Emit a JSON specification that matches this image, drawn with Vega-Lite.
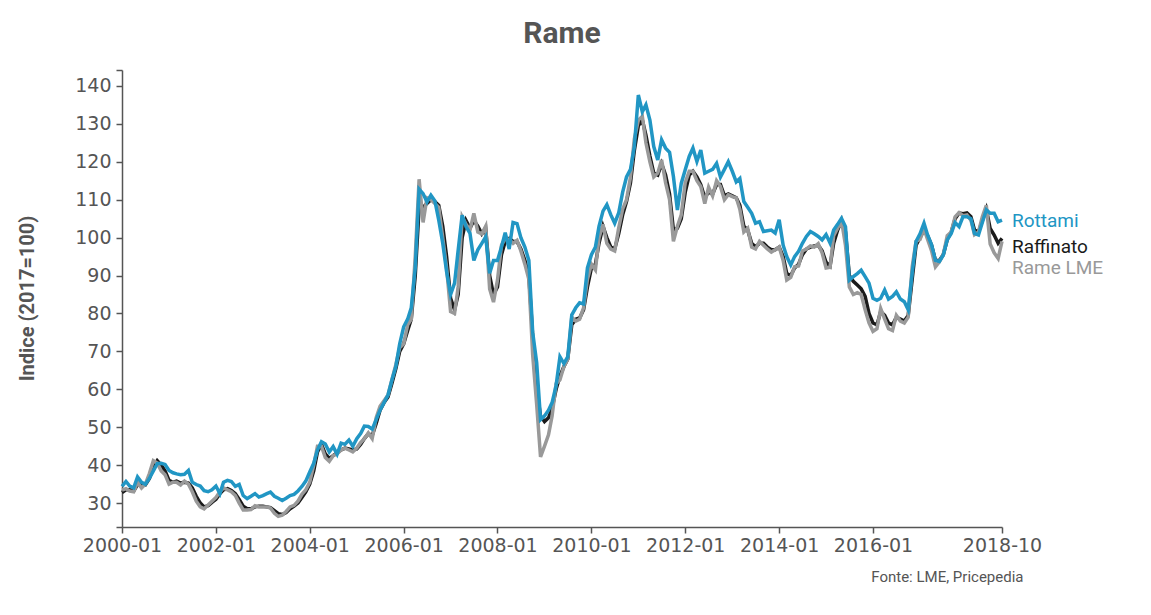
{
"$schema": "https://vega.github.io/schema/vega-lite/v6.json",
"width": 880,
"height": 457,
"autosize": {"type": "none"},
"padding": {"left": 122, "top": 70, "right": 149, "bottom": 88},
"background": "white",
"config": {"view": {"stroke": null}, "font": "Roboto", "axisY": {"labelOverlap": false}},
"title": {"text": "Rame", "font": "Roboto", "fontSize": 30, "fontWeight": "bold", "color": "#555555", "anchor": "middle", "offset": 12},
"encoding": {
"x": {"field": "d", "type": "temporal",
"scale": {"domain": [{"year": 2000, "month": 1, "date": 1}, {"year": 2018, "month": 10, "date": 1}]},
"axis": {"values": [{"year": 2000, "month": 1, "date": 1}, {"year": 2002, "month": 1, "date": 1}, {"year": 2004, "month": 1, "date": 1}, {"year": 2006, "month": 1, "date": 1}, {"year": 2008, "month": 1, "date": 1}, {"year": 2010, "month": 1, "date": 1}, {"year": 2012, "month": 1, "date": 1}, {"year": 2014, "month": 1, "date": 1}, {"year": 2016, "month": 1, "date": 1}, {"year": 2018, "month": 10, "date": 1}],
"format": "%Y-%m", "labelFont": "DejaVu Sans", "labelFontSize": 19, "labelColor": "#555555", "labelPadding": 3, "labelOverlap": false, "labelFlush": false,
"tickSize": 6, "tickColor": "#555555", "domainColor": "#555555", "domainWidth": 1.5, "tickWidth": 1.5, "grid": false,
"title": "Fonte: LME, Pricepedia", "titleFont": "Roboto", "titleFontSize": 15, "titleFontWeight": "normal", "titleColor": "#555555",
"titleAnchor": "end", "titleAlign": "right", "titleBaseline": "middle", "titleX": 901, "titleY": 49}},
"y": {"field": "valore", "type": "quantitative",
"scale": {"domain": [23.7, 144.2], "nice": false, "zero": false},
"axis": {"values": [23.7, 30, 40, 50, 60, 70, 80, 90, 100, 110, 120, 130, 140, 144.2],
"labelExpr": "datum.value % 10 == 0 ? datum.label : ''", "labelOverlap": false,
"labelFont": "DejaVu Sans", "labelFontSize": 19, "labelColor": "#555555", "labelPadding": 5,
"tickSize": 6, "tickColor": "#555555", "domainColor": "#555555", "domainWidth": 1.5, "tickWidth": 1.5, "grid": false,
"title": "Indice (2017=100)", "titleFont": "Roboto", "titleFontSize": 20, "titleFontWeight": "bold", "titleColor": "#555555",
"titleAngle": -90, "titleAlign": "center", "titleBaseline": "middle", "titleX": -95, "titleY": 228}},
"color": {"field": "serie", "type": "nominal",
"scale": {"domain": ["Rottami", "Raffinato", "Rame LME"], "range": ["#2196c4", "#1a1a1a", "#999999"]},
"legend": null}
},
"layer": [
{
"data": {"format": {"parse": {"d": "date:'%Y-%m'"}}, "values": [
{"d":"2000-01","Rottami":34.4,"Raffinato":32.8,"Rame LME":33.4},
{"d":"2000-02","Rottami":35.7,"Raffinato":33.5,"Rame LME":33.8},
{"d":"2000-03","Rottami":34.5,"Raffinato":33.5,"Rame LME":33.2},
{"d":"2000-04","Rottami":34,"Raffinato":33.2,"Rame LME":33},
{"d":"2000-05","Rottami":36.9,"Raffinato":34.8,"Rame LME":35.5},
{"d":"2000-06","Rottami":35.5,"Raffinato":35,"Rame LME":34},
{"d":"2000-07","Rottami":35,"Raffinato":34.8,"Rame LME":35},
{"d":"2000-08","Rottami":36.5,"Raffinato":36.5,"Rame LME":37.8},
{"d":"2000-09","Rottami":38.5,"Raffinato":39.5,"Rame LME":41.2},
{"d":"2000-10","Rottami":40.4,"Raffinato":41.2,"Rame LME":40.6},
{"d":"2000-11","Rottami":40.5,"Raffinato":40,"Rame LME":38.5},
{"d":"2000-12","Rottami":40.2,"Raffinato":38.5,"Rame LME":37.5},
{"d":"2001-01","Rottami":38.6,"Raffinato":36,"Rame LME":35},
{"d":"2001-02","Rottami":38,"Raffinato":35.5,"Rame LME":35.5},
{"d":"2001-03","Rottami":37.7,"Raffinato":35.8,"Rame LME":35.5},
{"d":"2001-04","Rottami":37.5,"Raffinato":35.3,"Rame LME":34.8},
{"d":"2001-05","Rottami":37.6,"Raffinato":35.5,"Rame LME":35.8},
{"d":"2001-06","Rottami":38.6,"Raffinato":35.3,"Rame LME":35},
{"d":"2001-07","Rottami":35.5,"Raffinato":34,"Rame LME":33},
{"d":"2001-08","Rottami":34.9,"Raffinato":31.8,"Rame LME":30.5},
{"d":"2001-09","Rottami":34.5,"Raffinato":30,"Rame LME":29},
{"d":"2001-10","Rottami":33.3,"Raffinato":29,"Rame LME":28.5},
{"d":"2001-11","Rottami":33,"Raffinato":29.3,"Rame LME":29.5},
{"d":"2001-12","Rottami":33.5,"Raffinato":30.2,"Rame LME":30.5},
{"d":"2002-01","Rottami":34.5,"Raffinato":31,"Rame LME":31.5},
{"d":"2002-02","Rottami":32.5,"Raffinato":32.5,"Rame LME":33},
{"d":"2002-03","Rottami":35.5,"Raffinato":33.5,"Rame LME":34},
{"d":"2002-04","Rottami":36,"Raffinato":33.8,"Rame LME":33.5},
{"d":"2002-05","Rottami":35.7,"Raffinato":33.3,"Rame LME":33},
{"d":"2002-06","Rottami":34.4,"Raffinato":32.5,"Rame LME":32},
{"d":"2002-07","Rottami":34.9,"Raffinato":31,"Rame LME":30},
{"d":"2002-08","Rottami":32,"Raffinato":29.2,"Rame LME":28.2},
{"d":"2002-09","Rottami":31.2,"Raffinato":28.5,"Rame LME":28.2},
{"d":"2002-10","Rottami":31.8,"Raffinato":28.5,"Rame LME":28.3},
{"d":"2002-11","Rottami":32.5,"Raffinato":29,"Rame LME":29.3},
{"d":"2002-12","Rottami":31.6,"Raffinato":29.2,"Rame LME":29},
{"d":"2003-01","Rottami":32,"Raffinato":29.2,"Rame LME":29},
{"d":"2003-02","Rottami":32.5,"Raffinato":29,"Rame LME":29},
{"d":"2003-03","Rottami":32.9,"Raffinato":28.8,"Rame LME":28.7},
{"d":"2003-04","Rottami":31.8,"Raffinato":28,"Rame LME":27.3},
{"d":"2003-05","Rottami":31.3,"Raffinato":27.2,"Rame LME":26.5},
{"d":"2003-06","Rottami":30.7,"Raffinato":27,"Rame LME":26.8},
{"d":"2003-07","Rottami":31.3,"Raffinato":27.5,"Rame LME":27.8},
{"d":"2003-08","Rottami":32,"Raffinato":28.5,"Rame LME":29},
{"d":"2003-09","Rottami":32.3,"Raffinato":29.2,"Rame LME":29.4},
{"d":"2003-10","Rottami":33.2,"Raffinato":30,"Rame LME":30.5},
{"d":"2003-11","Rottami":34.4,"Raffinato":31.5,"Rame LME":32.3},
{"d":"2003-12","Rottami":35.8,"Raffinato":33,"Rame LME":33.5},
{"d":"2004-01","Rottami":38.2,"Raffinato":35,"Rame LME":35.5},
{"d":"2004-02","Rottami":40.5,"Raffinato":38.5,"Rame LME":40},
{"d":"2004-03","Rottami":44,"Raffinato":43.5,"Rame LME":45},
{"d":"2004-04","Rottami":46.2,"Raffinato":45.5,"Rame LME":45},
{"d":"2004-05","Rottami":45.6,"Raffinato":43,"Rame LME":42},
{"d":"2004-06","Rottami":43.5,"Raffinato":41.8,"Rame LME":41},
{"d":"2004-07","Rottami":44.9,"Raffinato":42.5,"Rame LME":42.5},
{"d":"2004-08","Rottami":42.9,"Raffinato":43.3,"Rame LME":43},
{"d":"2004-09","Rottami":45.8,"Raffinato":44,"Rame LME":44},
{"d":"2004-10","Rottami":45.5,"Raffinato":44.5,"Rame LME":44.5},
{"d":"2004-11","Rottami":46.6,"Raffinato":44.3,"Rame LME":44},
{"d":"2004-12","Rottami":45,"Raffinato":44,"Rame LME":43.5},
{"d":"2005-01","Rottami":47,"Raffinato":44.3,"Rame LME":44.5},
{"d":"2005-02","Rottami":48.4,"Raffinato":45.5,"Rame LME":46},
{"d":"2005-03","Rottami":50.3,"Raffinato":47,"Rame LME":47},
{"d":"2005-04","Rottami":50.2,"Raffinato":48.3,"Rame LME":48.5},
{"d":"2005-05","Rottami":49.5,"Raffinato":47.8,"Rame LME":47},
{"d":"2005-06","Rottami":52,"Raffinato":51,"Rame LME":52.5},
{"d":"2005-07","Rottami":54.5,"Raffinato":54.5,"Rame LME":55.5},
{"d":"2005-08","Rottami":56.5,"Raffinato":56.5,"Rame LME":57},
{"d":"2005-09","Rottami":58.5,"Raffinato":58,"Rame LME":58.5},
{"d":"2005-10","Rottami":62.4,"Raffinato":61.5,"Rame LME":62.5},
{"d":"2005-11","Rottami":66,"Raffinato":65.5,"Rame LME":66.5},
{"d":"2005-12","Rottami":72,"Raffinato":70,"Rame LME":71},
{"d":"2006-01","Rottami":76.5,"Raffinato":72,"Rame LME":72},
{"d":"2006-02","Rottami":78.5,"Raffinato":75.5,"Rame LME":77},
{"d":"2006-03","Rottami":81.5,"Raffinato":78.5,"Rame LME":78.5},
{"d":"2006-04","Rottami":92,"Raffinato":90,"Rame LME":95},
{"d":"2006-05","Rottami":112.8,"Raffinato":108,"Rame LME":115.4},
{"d":"2006-06","Rottami":111.6,"Raffinato":108,"Rame LME":104},
{"d":"2006-07","Rottami":109.4,"Raffinato":109,"Rame LME":110.5},
{"d":"2006-08","Rottami":111.2,"Raffinato":110,"Rame LME":110},
{"d":"2006-09","Rottami":109.7,"Raffinato":109.5,"Rame LME":109},
{"d":"2006-10","Rottami":104.6,"Raffinato":108.5,"Rame LME":108},
{"d":"2006-11","Rottami":98.5,"Raffinato":103,"Rame LME":100},
{"d":"2006-12","Rottami":91,"Raffinato":95,"Rame LME":92},
{"d":"2007-01","Rottami":85,"Raffinato":84,"Rame LME":80.5},
{"d":"2007-02","Rottami":88,"Raffinato":81,"Rame LME":80},
{"d":"2007-03","Rottami":96.7,"Raffinato":85,"Rame LME":87},
{"d":"2007-04","Rottami":105.9,"Raffinato":100,"Rame LME":105.5},
{"d":"2007-05","Rottami":102.9,"Raffinato":104.5,"Rame LME":103.5},
{"d":"2007-06","Rottami":101.1,"Raffinato":102.5,"Rame LME":102},
{"d":"2007-07","Rottami":94,"Raffinato":104.5,"Rame LME":106.4},
{"d":"2007-08","Rottami":96.8,"Raffinato":103,"Rame LME":101.5},
{"d":"2007-09","Rottami":98.5,"Raffinato":101,"Rame LME":101},
{"d":"2007-10","Rottami":100.2,"Raffinato":102.5,"Rame LME":103},
{"d":"2007-11","Rottami":90.6,"Raffinato":90,"Rame LME":86.5},
{"d":"2007-12","Rottami":94,"Raffinato":85,"Rame LME":83},
{"d":"2008-01","Rottami":94,"Raffinato":87,"Rame LME":88.8},
{"d":"2008-02","Rottami":97.5,"Raffinato":95.5,"Rame LME":98},
{"d":"2008-03","Rottami":101.3,"Raffinato":99,"Rame LME":99.8},
{"d":"2008-04","Rottami":97,"Raffinato":99.8,"Rame LME":99.5},
{"d":"2008-05","Rottami":104,"Raffinato":99,"Rame LME":98.5},
{"d":"2008-06","Rottami":103.7,"Raffinato":99,"Rame LME":99.3},
{"d":"2008-07","Rottami":100,"Raffinato":97,"Rame LME":96.5},
{"d":"2008-08","Rottami":97.5,"Raffinato":94,"Rame LME":93},
{"d":"2008-09","Rottami":94,"Raffinato":90,"Rame LME":89},
{"d":"2008-10","Rottami":75,"Raffinato":74,"Rame LME":69},
{"d":"2008-11","Rottami":67,"Raffinato":60,"Rame LME":56},
{"d":"2008-12","Rottami":52,"Raffinato":53,"Rame LME":42.2},
{"d":"2009-01","Rottami":53,"Raffinato":51.5,"Rame LME":45},
{"d":"2009-02","Rottami":54.5,"Raffinato":52.5,"Rame LME":48},
{"d":"2009-03","Rottami":56.5,"Raffinato":55,"Rame LME":53},
{"d":"2009-04","Rottami":61,"Raffinato":60,"Rame LME":61.5},
{"d":"2009-05","Rottami":68.6,"Raffinato":63.5,"Rame LME":62.5},
{"d":"2009-06","Rottami":66.8,"Raffinato":66,"Rame LME":66},
{"d":"2009-07","Rottami":68.6,"Raffinato":68,"Rame LME":68},
{"d":"2009-08","Rottami":79.6,"Raffinato":77,"Rame LME":79},
{"d":"2009-09","Rottami":81.5,"Raffinato":78.5,"Rame LME":78},
{"d":"2009-10","Rottami":82.8,"Raffinato":78.8,"Rame LME":78.5},
{"d":"2009-11","Rottami":82.5,"Raffinato":81,"Rame LME":81.5},
{"d":"2009-12","Rottami":92,"Raffinato":87,"Rame LME":89},
{"d":"2010-01","Rottami":95.5,"Raffinato":92,"Rame LME":93},
{"d":"2010-02","Rottami":97.5,"Raffinato":93,"Rame LME":91.5},
{"d":"2010-03","Rottami":103,"Raffinato":98.5,"Rame LME":100},
{"d":"2010-04","Rottami":107,"Raffinato":103,"Rame LME":103.5},
{"d":"2010-05","Rottami":108.7,"Raffinato":100,"Rame LME":98.5},
{"d":"2010-06","Rottami":106,"Raffinato":97.5,"Rame LME":97},
{"d":"2010-07","Rottami":103.8,"Raffinato":97,"Rame LME":96.5},
{"d":"2010-08","Rottami":106.5,"Raffinato":101,"Rame LME":102.5},
{"d":"2010-09","Rottami":112,"Raffinato":106,"Rame LME":107.5},
{"d":"2010-10","Rottami":116,"Raffinato":109.5,"Rame LME":110},
{"d":"2010-11","Rottami":118,"Raffinato":114.5,"Rame LME":116},
{"d":"2010-12","Rottami":124,"Raffinato":123,"Rame LME":126},
{"d":"2011-01","Rottami":137.6,"Raffinato":129.5,"Rame LME":131},
{"d":"2011-02","Rottami":133.2,"Raffinato":131,"Rame LME":132},
{"d":"2011-03","Rottami":135,"Raffinato":127,"Rame LME":125},
{"d":"2011-04","Rottami":131,"Raffinato":121.5,"Rame LME":120},
{"d":"2011-05","Rottami":124,"Raffinato":117,"Rame LME":116},
{"d":"2011-06","Rottami":120.5,"Raffinato":116.5,"Rame LME":117},
{"d":"2011-07","Rottami":125.8,"Raffinato":119.5,"Rame LME":120.5},
{"d":"2011-08","Rottami":123.6,"Raffinato":116.5,"Rame LME":114.5},
{"d":"2011-09","Rottami":122.5,"Raffinato":111.5,"Rame LME":110},
{"d":"2011-10","Rottami":116.1,"Raffinato":102,"Rame LME":99},
{"d":"2011-11","Rottami":107.3,"Raffinato":102.5,"Rame LME":103},
{"d":"2011-12","Rottami":114.3,"Raffinato":105,"Rame LME":106},
{"d":"2012-01","Rottami":117.9,"Raffinato":112,"Rame LME":114.5},
{"d":"2012-02","Rottami":121.4,"Raffinato":116.5,"Rame LME":117.5},
{"d":"2012-03","Rottami":123.6,"Raffinato":117.5,"Rame LME":117.5},
{"d":"2012-04","Rottami":120.1,"Raffinato":116,"Rame LME":115},
{"d":"2012-05","Rottami":123.1,"Raffinato":114,"Rame LME":113.5},
{"d":"2012-06","Rottami":117,"Raffinato":110.5,"Rame LME":109},
{"d":"2012-07","Rottami":117.5,"Raffinato":112,"Rame LME":113.3},
{"d":"2012-08","Rottami":118,"Raffinato":111.5,"Rame LME":111},
{"d":"2012-09","Rottami":119.6,"Raffinato":114,"Rame LME":115},
{"d":"2012-10","Rottami":116,"Raffinato":114,"Rame LME":113.5},
{"d":"2012-11","Rottami":118,"Raffinato":111,"Rame LME":110},
{"d":"2012-12","Rottami":120,"Raffinato":111.5,"Rame LME":111.3},
{"d":"2013-01","Rottami":117.5,"Raffinato":111,"Rame LME":110.8},
{"d":"2013-02","Rottami":114.7,"Raffinato":110.5,"Rame LME":110.5},
{"d":"2013-03","Rottami":115.6,"Raffinato":108.5,"Rame LME":107.5},
{"d":"2013-04","Rottami":109.5,"Raffinato":103,"Rame LME":101.5},
{"d":"2013-05","Rottami":108,"Raffinato":102,"Rame LME":102.5},
{"d":"2013-06","Rottami":106.4,"Raffinato":98.5,"Rame LME":97.5},
{"d":"2013-07","Rottami":103.8,"Raffinato":97.5,"Rame LME":97},
{"d":"2013-08","Rottami":104.2,"Raffinato":98.5,"Rame LME":99},
{"d":"2013-09","Rottami":101.6,"Raffinato":98.5,"Rame LME":98},
{"d":"2013-10","Rottami":101.8,"Raffinato":97.5,"Rame LME":97},
{"d":"2013-11","Rottami":102,"Raffinato":96.8,"Rame LME":96.2},
{"d":"2013-12","Rottami":101.2,"Raffinato":96.8,"Rame LME":96.8},
{"d":"2014-01","Rottami":104.7,"Raffinato":97.5,"Rame LME":97.5},
{"d":"2014-02","Rottami":98,"Raffinato":95,"Rame LME":94},
{"d":"2014-03","Rottami":95,"Raffinato":90.5,"Rame LME":88.8},
{"d":"2014-04","Rottami":92.8,"Raffinato":90,"Rame LME":89.5},
{"d":"2014-05","Rottami":95,"Raffinato":92,"Rame LME":92.3},
{"d":"2014-06","Rottami":96.4,"Raffinato":93,"Rame LME":92.5},
{"d":"2014-07","Rottami":98.5,"Raffinato":95.5,"Rame LME":96.5},
{"d":"2014-08","Rottami":100.3,"Raffinato":97,"Rame LME":97},
{"d":"2014-09","Rottami":101.6,"Raffinato":97.5,"Rame LME":97.8},
{"d":"2014-10","Rottami":101,"Raffinato":97.8,"Rame LME":97.5},
{"d":"2014-11","Rottami":100.3,"Raffinato":98,"Rame LME":98.4},
{"d":"2014-12","Rottami":99.4,"Raffinato":96.5,"Rame LME":96},
{"d":"2015-01","Rottami":100.8,"Raffinato":93.5,"Rame LME":92},
{"d":"2015-02","Rottami":98.6,"Raffinato":92.5,"Rame LME":92.2},
{"d":"2015-03","Rottami":102,"Raffinato":98.5,"Rame LME":100.5},
{"d":"2015-04","Rottami":103.5,"Raffinato":102,"Rame LME":102.5},
{"d":"2015-05","Rottami":105.1,"Raffinato":104.5,"Rame LME":104.5},
{"d":"2015-06","Rottami":102.9,"Raffinato":101.5,"Rame LME":98},
{"d":"2015-07","Rottami":88.8,"Raffinato":90,"Rame LME":87},
{"d":"2015-08","Rottami":89.7,"Raffinato":88.5,"Rame LME":85},
{"d":"2015-09","Rottami":90.5,"Raffinato":87.5,"Rame LME":85.5},
{"d":"2015-10","Rottami":91.4,"Raffinato":86.5,"Rame LME":85},
{"d":"2015-11","Rottami":89.7,"Raffinato":84.5,"Rame LME":81},
{"d":"2015-12","Rottami":88,"Raffinato":80,"Rame LME":77.5},
{"d":"2016-01","Rottami":84,"Raffinato":77.5,"Rame LME":75.3},
{"d":"2016-02","Rottami":83.5,"Raffinato":77,"Rame LME":76},
{"d":"2016-03","Rottami":84,"Raffinato":80.5,"Rame LME":81.3},
{"d":"2016-04","Rottami":86.2,"Raffinato":79.5,"Rame LME":78.5},
{"d":"2016-05","Rottami":83.8,"Raffinato":77.5,"Rame LME":76},
{"d":"2016-06","Rottami":84.5,"Raffinato":77,"Rame LME":75.5},
{"d":"2016-07","Rottami":85.7,"Raffinato":79,"Rame LME":79.5},
{"d":"2016-08","Rottami":83.8,"Raffinato":78.5,"Rame LME":78},
{"d":"2016-09","Rottami":83.1,"Raffinato":78,"Rame LME":77.5},
{"d":"2016-10","Rottami":81,"Raffinato":79.5,"Rame LME":79},
{"d":"2016-11","Rottami":90.6,"Raffinato":89,"Rame LME":92.3},
{"d":"2016-12","Rottami":99,"Raffinato":98,"Rame LME":99},
{"d":"2017-01","Rottami":101,"Raffinato":100,"Rame LME":99.5},
{"d":"2017-02","Rottami":103.8,"Raffinato":102,"Rame LME":102.3},
{"d":"2017-03","Rottami":100.7,"Raffinato":100.5,"Rame LME":99.5},
{"d":"2017-04","Rottami":98.1,"Raffinato":98,"Rame LME":96.5},
{"d":"2017-05","Rottami":94,"Raffinato":94,"Rame LME":92.3},
{"d":"2017-06","Rottami":93.7,"Raffinato":94,"Rame LME":93.6},
{"d":"2017-07","Rottami":95.4,"Raffinato":95.5,"Rame LME":95.5},
{"d":"2017-08","Rottami":99.4,"Raffinato":99.5,"Rame LME":100.5},
{"d":"2017-09","Rottami":101.1,"Raffinato":101.5,"Rame LME":101.5},
{"d":"2017-10","Rottami":104,"Raffinato":105,"Rame LME":105.5},
{"d":"2017-11","Rottami":102.9,"Raffinato":106.5,"Rame LME":106.6},
{"d":"2017-12","Rottami":105.5,"Raffinato":106.3,"Rame LME":105.8},
{"d":"2018-01","Rottami":105.5,"Raffinato":106.5,"Rame LME":106},
{"d":"2018-02","Rottami":105,"Raffinato":105.5,"Rame LME":104.6},
{"d":"2018-03","Rottami":101.1,"Raffinato":102,"Rame LME":100.8},
{"d":"2018-04","Rottami":100.7,"Raffinato":101.5,"Rame LME":101.5},
{"d":"2018-05","Rottami":104,"Raffinato":104.5,"Rame LME":105.5},
{"d":"2018-06","Rottami":107.3,"Raffinato":107.5,"Rame LME":108.5},
{"d":"2018-07","Rottami":106.4,"Raffinato":102.4,"Rame LME":98.3},
{"d":"2018-08","Rottami":106.4,"Raffinato":100.7,"Rame LME":96},
{"d":"2018-09","Rottami":104.2,"Raffinato":98.5,"Rame LME":94.5},
{"d":"2018-10","Rottami":104.6,"Raffinato":99.8,"Rame LME":99}
]},
"transform": [{"fold": ["Raffinato", "Rame LME", "Rottami"], "as": ["serie", "valore"]}],
"mark": {"type": "line", "strokeWidth": 3.5}
},
{
"data": {"format": {"parse": {"d": "date:'%Y-%m'"}}, "values": [
{"d": "2018-10", "serie": "Rottami", "valore": 104.4},
{"d": "2018-10", "serie": "Raffinato", "valore": 97.6},
{"d": "2018-10", "serie": "Rame LME", "valore": 92.1}
]},
"mark": {"type": "text", "align": "left", "baseline": "middle", "dx": 10, "font": "Roboto", "fontSize": 19},
"encoding": {"text": {"field": "serie"}}
}
]
}
